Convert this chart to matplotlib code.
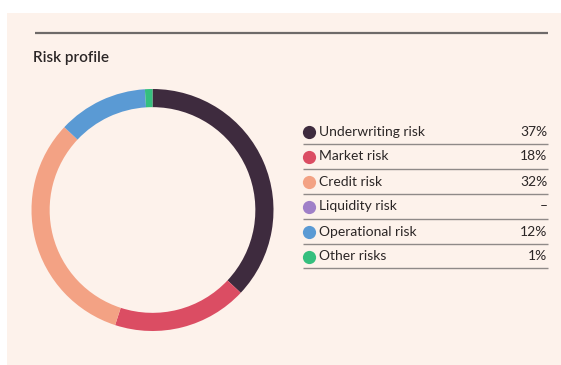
import matplotlib
matplotlib.use("Agg")
import matplotlib.pyplot as plt
from matplotlib.patches import Rectangle
from matplotlib.lines import Line2D

plt.rcParams['font.family'] = ['Lato', 'DejaVu Sans']

title = "Risk profile"
categories = ["Underwriting risk", "Market risk", "Credit risk",
              "Liquidity risk", "Operational risk", "Other risks"]
values = [37, 18, 32, 0, 12, 1]
value_labels = ["37%", "18%", "32%", "\u2013", "12%", "1%"]
colors = ["#3e2b3e", "#db4d63", "#f3a284", "#a080c8", "#5a9ad4", "#35bf7e"]

W, H = 561, 365
BG = "#fdf2eb"
TXT = "#2b2626"

fig = plt.figure(figsize=(W / 100, H / 100), dpi=100)
fig.patch.set_facecolor("white")

# overlay axes in pixel coordinates
ov = fig.add_axes([0, 0, 1, 1])
ov.set_xlim(0, W)
ov.set_ylim(H, 0)
ov.axis("off")
ov.add_patch(Rectangle((7, 13), W - 7, H - 13, facecolor=BG, edgecolor="none", zorder=0))
ov.plot([35, 548], [33, 33], color="#6e6a69", lw=1.6, solid_capstyle="butt", zorder=1)
ov.text(33, 58, title, fontsize=11, fontweight="semibold", color=TXT,
        va="center", ha="left")

# donut
cx, cy, r = 152.5, 210, 121
ax = fig.add_axes([(cx - r) / W, (H - cy - r) / H, 2 * r / W, 2 * r / H])
ax.set_xlim(-1, 1)
ax.set_ylim(-1, 1)
ax.axis("off")
ax.pie(values, colors=colors, startangle=90, counterclock=False, radius=1,
       wedgeprops=dict(width=0.15, edgecolor="none", linewidth=0))
ax.set_xlim(-1, 1)
ax.set_ylim(-1, 1)

# legend table
y0, dy = 131.5, 25
for i, (cat, lab, col) in enumerate(zip(categories, value_labels, colors)):
    y = y0 + i * dy
    ov.plot([309], [y], marker="o", markersize=9.5, color=col, markeredgewidth=0, zorder=3)
    ov.text(319, y, cat, fontsize=10, color=TXT, va="center", ha="left")
    ov.text(547.5, y, lab, fontsize=10, color=TXT, va="center", ha="right")
    ly = y + 12 if i < len(categories) - 1 else y + 11
    ov.plot([303, 548], [ly, ly], color="#8f8a88", lw=1.0, solid_capstyle="butt", zorder=1)

fig.savefig("out.png", dpi=100, facecolor=fig.get_facecolor())
